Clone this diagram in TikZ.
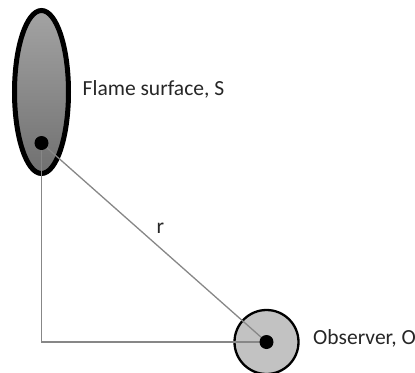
\documentclass[tikz,border=0pt]{standalone}
\usepackage{fontspec}
\setmainfont{Carlito}
\usetikzlibrary{shapes.geometric}
\begin{document}
\begin{tikzpicture}[x=1bp,y=-1bp,
  conn/.style={draw=black!47,line width=1.3bp},
  dot/.style={circle,fill=black,minimum size=14bp,inner sep=0pt},
  lbl/.style={anchor=base west,inner sep=0pt,font=\fontsize{21.6}{25}\selectfont,text=black!85}]
\useasboundingbox (0,0) rectangle (415,373);
\node[ellipse,draw=black,line width=5bp,minimum width=54bp,minimum height=163bp,
      top color=black!36,bottom color=black!56,inner sep=0pt] (flame) at (41.5,92) {};
\node[circle,draw=black,line width=2.3bp,fill=black!24,minimum size=64bp,inner sep=0pt] (obs) at (266.5,342) {};
\coordinate (S) at (41.5,143);
\coordinate (O) at (266.5,342);
\draw[conn] (S) |- (O);
\draw[conn] (S) -- (O);
\node[dot] (sdot) at (S) {};
\node[dot] (odot) at (O) {};
\node[lbl] (ftext) at (82.5,95) {Flame surface, S};
\node[lbl] (otext) at (313,344) {Observer, O};
\node[lbl] (rtext) at (156.5,233) {r};
\end{tikzpicture}
\end{document}
